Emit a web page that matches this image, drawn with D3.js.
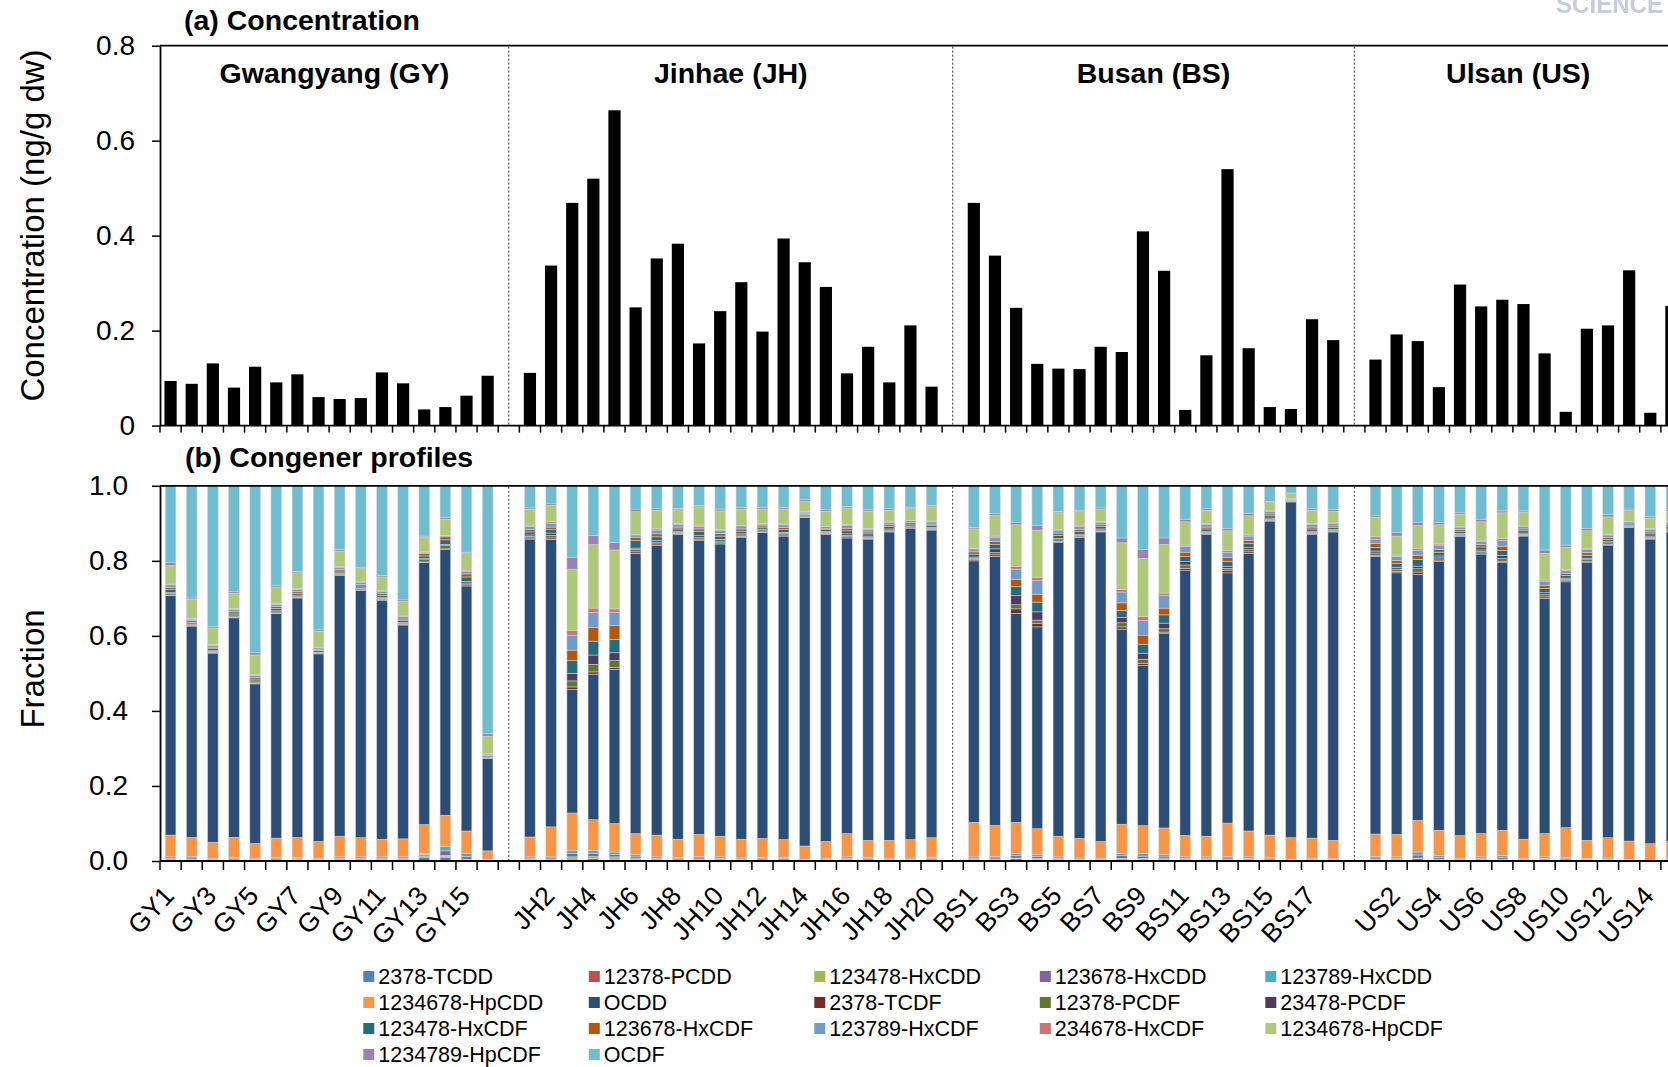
<!DOCTYPE html>
<html>
<head>
<meta charset="utf-8">
<script src="https://cdn.jsdelivr.net/npm/d3@7"></script>
<style>
  html, body { margin: 0; padding: 0; background: #fff; }
  svg { display: block; font-family: "Liberation Sans", Arial, sans-serif; }
</style>
</head>
<body>
<svg id="chart" width="1668" height="1067"></svg>
<script>
// ---- sampling regions (in plotting order) ----
const regionCodes = ["GY", "JH", "BS", "US"];
const regionNames = ["Gwangyang (GY)", "Jinhae (JH)", "Busan (BS)", "Ulsan (US)"];
const regionSizes = [16, 20, 18, 15];

// ---- (a) total concentration, ng/g dw ----
const concentration = [
  .094, .088, .131, .080, .124, .091, .108, .060, .056, .058, .112, .089, .034, .039, .063, .105,
  .111, .337, .469, .520, .664, .249, .352, .383, .173, .241, .302, .198, .394, .344, .292, .110, .166, .091, .211, .082,
  .469, .358, .248, .130, .120, .119, .166, .155, .409, .326, .033, .148, .540, .163, .039, .035, .224, .180,
  .139, .192, .178, .081, .297, .251, .265, .256, .152, .029, .204, .211, .327, .027, .252
];
const concTicks = [0, 0.2, 0.4, 0.6, 0.8];
const fracTicks = [0, 0.2, 0.4, 0.6, 0.8, 1.0];

// ---- (b) congener fractions (GY | JH | BS | US) ----
const tcdd2378 = [
  .001, .001, .001, .001, .001, .001, .001, .001, .001, .001, .001, .001, .010, .010, .002, .000,
  .001, .001, .002, .002, .002, .001, .001, .001, .001, .001, .001, .001, .001, .000, .001, .001, .001, .001, .001, .001,
  .001, .001, .002, .001, .001, .001, .001, .001, .002, .001, .001, .001, .001, .001, .001, .000, .001, .001,
  .001, .001, .002, .001, .001, .001, .001, .001, .001, .001, .001, .001, .000, .000, .000
];
const pecdd12378 = [
  .001, .001, .001, .001, .001, .001, .001, .001, .001, .001, .001, .001, .001, .002, .001, .001,
  .001, .001, .003, .004, .003, .002, .001, .001, .001, .001, .001, .001, .001, .001, .001, .001, .001, .001, .001, .001,
  .001, .001, .004, .003, .001, .001, .001, .002, .002, .002, .001, .001, .001, .001, .001, .001, .001, .001,
  .001, .001, .004, .002, .001, .001, .002, .001, .001, .001, .001, .001, .001, .000, .001
];
const hxcdd123478 = [
  .002, .002, .001, .001, .001, .001, .002, .001, .002, .002, .002, .002, .006, .003, .002, .001,
  .002, .002, .006, .006, .006, .003, .002, .001, .002, .002, .001, .001, .001, .001, .001, .002, .001, .001, .001, .001,
  .002, .002, .002, .003, .002, .001, .001, .004, .003, .003, .002, .002, .002, .002, .001, .001, .001, .001,
  .002, .002, .002, .002, .001, .002, .002, .001, .002, .001, .001, .001, .001, .001, .001
];
const hxcdd123678 = [
  .003, .004, .001, .003, .001, .003, .003, .002, .003, .003, .003, .003, .001, .012, .007, .001,
  .003, .004, .009, .008, .006, .005, .003, .003, .004, .003, .002, .003, .003, .001, .001, .003, .003, .001, .002, .003,
  .003, .004, .006, .005, .003, .002, .001, .007, .006, .005, .003, .003, .004, .003, .003, .001, .001, .001,
  .004, .003, .008, .005, .001, .003, .005, .001, .003, .003, .002, .002, .001, .000, .001
];
const hxcdd123789 = [
  .004, .004, .002, .003, .002, .003, .003, .002, .004, .004, .004, .004, .002, .012, .008, .001,
  .004, .003, .008, .008, .007, .006, .004, .003, .004, .004, .003, .003, .003, .001, .002, .004, .003, .002, .003, .003,
  .004, .004, .006, .005, .004, .003, .002, .006, .007, .006, .004, .004, .004, .004, .003, .001, .002, .002,
  .004, .004, .008, .005, .002, .004, .005, .002, .004, .003, .002, .003, .001, .001, .001
];
const hpcdd1234678 = [
  .058, .051, .044, .054, .041, .052, .053, .045, .055, .051, .047, .048, .077, .083, .060, .023,
  .053, .080, .100, .082, .076, .056, .058, .049, .059, .055, .050, .051, .048, .036, .046, .062, .046, .049, .049, .053,
  .092, .083, .083, .069, .055, .052, .046, .078, .074, .071, .057, .055, .089, .069, .060, .058, .055, .049,
  .060, .060, .084, .067, .062, .062, .067, .052, .062, .080, .048, .054, .049, .044, .048
];
const ocdd = [
  .638, .563, .504, .585, .425, .598, .638, .500, .695, .659, .637, .570, .698, .708, .653, .246,
  .794, .766, .329, .388, .411, .747, .772, .813, .784, .779, .804, .815, .809, .875, .819, .788, .803, .822, .829, .820,
  .697, .717, .557, .538, .783, .802, .825, .520, .427, .518, .706, .805, .667, .740, .837, .895, .810, .822,
  .740, .697, .656, .716, .797, .745, .713, .808, .627, .655, .740, .780, .836, .812, .825
];
const tcdf2378 = [
  .002, .002, .002, .002, .002, .002, .002, .001, .002, .002, .002, .002, .002, .002, .003, .001,
  .003, .004, .007, .006, .005, .004, .004, .002, .003, .003, .003, .002, .003, .001, .002, .003, .002, .002, .002, .002,
  .003, .004, .012, .009, .003, .002, .002, .006, .006, .004, .006, .002, .006, .004, .002, .001, .002, .002,
  .003, .004, .006, .004, .002, .003, .004, .002, .004, .003, .003, .002, .001, .002, .002
];
const pecdf12378 = [
  .004, .002, .003, .003, .003, .003, .003, .002, .003, .003, .003, .003, .006, .009, .005, .002,
  .004, .007, .016, .020, .018, .007, .005, .003, .005, .005, .004, .003, .004, .002, .003, .004, .003, .003, .003, .003,
  .004, .006, .011, .009, .004, .004, .003, .011, .011, .009, .009, .003, .006, .006, .003, .001, .003, .003,
  .006, .006, .009, .006, .003, .004, .007, .003, .006, .004, .005, .004, .002, .003, .003
];
const pecdf23478 = [
  .003, .002, .002, .003, .003, .003, .003, .002, .002, .002, .003, .002, .003, .003, .004, .001,
  .004, .006, .020, .025, .021, .003, .004, .003, .004, .004, .003, .003, .003, .002, .002, .004, .003, .003, .002, .002,
  .003, .010, .024, .022, .004, .003, .003, .014, .016, .015, .009, .003, .005, .005, .003, .001, .003, .002,
  .005, .005, .007, .005, .003, .004, .009, .003, .005, .003, .004, .003, .002, .003, .003
];
const hxcdf123478 = [
  .007, .004, .005, .005, .005, .006, .005, .004, .005, .005, .005, .005, .007, .012, .012, .003,
  .008, .009, .034, .037, .036, .020, .010, .006, .012, .009, .007, .005, .007, .004, .005, .008, .006, .006, .005, .005,
  .008, .011, .024, .026, .008, .007, .006, .019, .024, .022, .013, .006, .014, .011, .006, .002, .006, .005,
  .010, .010, .018, .010, .006, .008, .013, .006, .011, .007, .008, .006, .004, .006, .006
];
const hxcdf123678 = [
  .006, .004, .004, .005, .005, .005, .005, .003, .004, .004, .005, .004, .006, .008, .008, .002,
  .007, .007, .028, .036, .036, .009, .008, .005, .006, .007, .006, .005, .006, .003, .004, .007, .005, .005, .004, .004,
  .006, .009, .019, .021, .006, .006, .005, .020, .024, .018, .012, .005, .010, .009, .005, .002, .005, .004,
  .010, .008, .011, .008, .005, .007, .011, .005, .009, .006, .007, .005, .003, .005, .005
];
const hxcdf123789 = [
  .007, .004, .005, .005, .005, .006, .005, .004, .005, .006, .005, .006, .004, .003, .006, .003,
  .008, .010, .040, .041, .036, .006, .010, .007, .007, .008, .008, .005, .007, .003, .004, .008, .007, .006, .005, .006,
  .008, .011, .028, .036, .008, .007, .007, .029, .039, .034, .015, .007, .014, .011, .006, .001, .007, .006,
  .012, .011, .012, .011, .006, .008, .015, .006, .011, .008, .008, .007, .004, .007, .006
];
const hxcdf234678 = [
  .002, .002, .002, .002, .002, .002, .002, .002, .002, .002, .002, .002, .001, .001, .004, .001,
  .003, .004, .012, .011, .009, .002, .003, .002, .003, .003, .002, .002, .002, .001, .001, .002, .002, .002, .001, .002,
  .002, .003, .007, .009, .002, .002, .002, .007, .011, .006, .004, .002, .004, .003, .002, .001, .002, .002,
  .006, .003, .005, .003, .002, .003, .006, .002, .003, .002, .003, .002, .001, .002, .002
];
const hpcdf1234678 = [
  .050, .051, .044, .041, .052, .044, .042, .042, .042, .034, .037, .039, .038, .043, .044, .046,
  .042, .044, .164, .169, .157, .060, .050, .037, .049, .049, .043, .038, .040, .028, .040, .044, .046, .031, .031, .038,
  .051, .055, .111, .126, .044, .038, .032, .124, .154, .130, .062, .036, .053, .051, .022, .013, .036, .031,
  .052, .051, .062, .051, .032, .049, .068, .036, .071, .059, .047, .046, .028, .028, .028
];
const hpcdf1234789 = [
  .007, .004, .004, .004, .006, .004, .004, .004, .004, .004, .004, .004, .004, .004, .004, .007,
  .004, .004, .031, .025, .020, .007, .004, .004, .004, .005, .004, .004, .004, .004, .004, .004, .004, .004, .004, .004,
  .004, .005, .007, .013, .004, .004, .004, .013, .024, .017, .007, .004, .006, .007, .003, .002, .004, .005,
  .004, .009, .009, .006, .004, .007, .005, .004, .009, .006, .006, .006, .004, .004, .004
];
const ocdf = [
  .205, .299, .374, .282, .445, .266, .228, .383, .170, .218, .239, .305, .134, .084, .177, .660,
  .059, .047, .191, .132, .151, .062, .061, .060, .052, .062, .058, .058, .058, .037, .064, .055, .064, .061, .057, .052,
  .111, .074, .097, .105, .068, .065, .059, .139, .170, .139, .089, .061, .114, .073, .042, .019, .061, .063,
  .080, .125, .097, .098, .072, .089, .067, .067, .171, .158, .114, .077, .062, .082, .064
];

const congenerNames = [
  "2378-TCDD", "12378-PCDD", "123478-HxCDD", "123678-HxCDD", "123789-HxCDD",
  "1234678-HpCDD", "OCDD", "2378-TCDF", "12378-PCDF", "23478-PCDF",
  "123478-HxCDF", "123678-HxCDF", "123789-HxCDF", "234678-HxCDF", "1234678-HpCDF",
  "1234789-HpCDF", "OCDF"
];
const congenerSeries = [
  tcdd2378, pecdd12378, hxcdd123478, hxcdd123678, hxcdd123789,
  hpcdd1234678, ocdd, tcdf2378, pecdf12378, pecdf23478,
  hxcdf123478, hxcdf123678, hxcdf123789, hxcdf234678, hpcdf1234678,
  hpcdf1234789, ocdf
];
const congenerColors = [
  "#4F81BD", "#C0504D", "#9BBB59", "#8064A2", "#4BACC6",
  "#F79646", "#2C4D75", "#772C2A", "#5F7530", "#4D3B62",
  "#276A7C", "#B65708", "#729ACA", "#CD7371", "#AFC97A",
  "#9983B5", "#6FBDD1"
];

// ---- category slots: samples with one empty slot between regions ----
const slots = [];
const sites = [];
regionCodes.forEach((code, r) => {
  if (r > 0) slots.push("gap" + r);
  for (let k = 1; k <= regionSizes[r]; k++) { slots.push(code + k); sites.push(code + k); }
});

const svg = d3.select("#chart");
const FONT = '"Liberation Sans", Arial, sans-serif';

const x = d3.scaleBand().domain(slots).range([160, 1682]).padding(0);
const bw = x.bandwidth();
const plotLeft = x.range()[0];
const plotRight = x.range()[1];
const gapSlots = slots.filter(s => s.startsWith("gap"));
const sepX = gapSlots.map(s => x(s) + bw / 2);

const yTop = d3.scaleLinear().domain([0, 0.8]).range([425.6, 45.7]);
const yBot = d3.scaleLinear().domain([0, 1]).range([861, 485.8]);

// ---------- panel (a) bars ----------
const topBarW = 12.2;
svg.append("g").selectAll("rect")
  .data(sites.map((s, i) => ({ site: s, v: concentration[i] })))
  .join("rect")
  .attr("x", d => x(d.site) + (bw - topBarW) / 2)
  .attr("y", d => yTop(d.v))
  .attr("width", topBarW)
  .attr("height", d => yTop(0) - yTop(d.v))
  .attr("fill", "#000");

// ---------- panel (b) stacked congener profiles ----------
const rows = sites.map((s, i) => {
  const r = { site: s };
  congenerNames.forEach((k, j) => { r[k] = congenerSeries[j][i]; });
  return r;
});
const stacked = d3.stack().keys(congenerNames)(rows);
const botBarW = 10.6;
svg.append("g").selectAll("g")
  .data(stacked)
  .join("g")
  .attr("fill", (d, i) => congenerColors[i])
  .selectAll("rect")
  .data(d => d)
  .join("rect")
  .attr("x", d => x(d.data.site) + (bw - botBarW) / 2)
  .attr("y", d => yBot(d[1]))
  .attr("width", botBarW)
  .attr("height", d => Math.max(0, yBot(d[0]) - yBot(d[1])))
  .attr("stroke", "rgba(215,215,220,0.85)")
  .attr("stroke-width", 0.6);

// ---------- frames, separators, axes ----------
function panelFrame(yTopPx, yZeroPx, tickLen) {
  const g = svg.append("g");
  g.append("line").attr("x1", plotLeft).attr("x2", plotRight)
    .attr("y1", yTopPx).attr("y2", yTopPx)
    .attr("stroke", "#000").attr("stroke-width", 1.8);
  g.append("line").attr("x1", plotLeft).attr("x2", plotRight)
    .attr("y1", yZeroPx).attr("y2", yZeroPx)
    .attr("stroke", "#000").attr("stroke-width", 1.8);
  // category tick marks at band boundaries
  const bounds = slots.map(s => x(s)).concat([plotRight]);
  g.selectAll("line.ct").data(bounds).join("line").attr("class", "ct")
    .attr("x1", d => d).attr("x2", d => d)
    .attr("y1", yZeroPx).attr("y2", yZeroPx + tickLen)
    .attr("stroke", "#000").attr("stroke-width", 1.5);
  // dotted separators between regions
  g.selectAll("line.sep").data(sepX).join("line").attr("class", "sep")
    .attr("x1", d => d).attr("x2", d => d)
    .attr("y1", yTopPx + 1).attr("y2", yZeroPx - 1)
    .attr("stroke", "#333").attr("stroke-width", 1)
    .attr("stroke-dasharray", "2,2");
}
panelFrame(45.7, 425.6, 7);
panelFrame(485.8, 861, 9);

function styleAxis(g) {
  g.select(".domain").attr("stroke", "#000").attr("stroke-width", 1.8);
  g.selectAll(".tick line").attr("stroke", "#000").attr("stroke-width", 1.5);
  g.selectAll(".tick text").attr("font-family", FONT).attr("font-size", 28).attr("fill", "#000");
}
svg.append("g").attr("transform", `translate(${plotLeft},0)`)
  .call(d3.axisLeft(yTop).tickValues(concTicks).tickSize(8).tickSizeOuter(0).tickPadding(17)
    .tickFormat(d => d === 0 ? "0" : d3.format(".1f")(d)))
  .call(styleAxis);
svg.append("g").attr("transform", `translate(${plotLeft},0)`)
  .call(d3.axisLeft(yBot).tickValues(fracTicks).tickSize(8).tickSizeOuter(0).tickPadding(24)
    .tickFormat(d3.format(".1f")))
  .call(styleAxis);

// ---------- category labels (every other slot) ----------
svg.append("g").selectAll("text")
  .data(slots.filter((s, i) => i % 2 === 0 && !s.startsWith("gap")))
  .join("text")
  .attr("transform", d => `translate(${x(d) + bw / 2 + 5},${897}) rotate(-47)`)
  .attr("text-anchor", "end")
  .attr("font-family", FONT).attr("font-size", 26.5).attr("fill", "#000")
  .text(d => d);

// ---------- titles ----------
svg.append("text").attr("x", 184).attr("y", 30)
  .attr("font-family", FONT).attr("font-size", 28.5).attr("font-weight", "bold")
  .text("(a) Concentration");
svg.append("text").attr("x", 185).attr("y", 467)
  .attr("font-family", FONT).attr("font-size", 28.5).attr("font-weight", "bold")
  .text("(b) Congener profiles");

// region names, centred between the separators that bound each region
const regionBounds = [plotLeft].concat(sepX, [plotRight]);
regionNames.forEach((name, r) => {
  const cx = (regionBounds[r] + regionBounds[r + 1]) / 2;
  svg.append("text").attr("x", cx).attr("y", 83)
    .attr("text-anchor", "middle")
    .attr("font-family", FONT).attr("font-size", 28.5).attr("font-weight", "bold")
    .text(name);
});

svg.append("text").attr("transform", "translate(44,225.5) rotate(-90)")
  .attr("text-anchor", "middle").attr("font-family", FONT).attr("font-size", 33)
  .text("Concentration (ng/g dw)");
svg.append("text").attr("transform", "translate(44,669) rotate(-90)")
  .attr("text-anchor", "middle").attr("font-family", FONT).attr("font-size", 33)
  .text("Fraction");

// faint journal mark in the top-right corner
svg.append("text").attr("x", 1556).attr("y", 13)
  .attr("font-family", FONT).attr("font-size", 26).attr("font-weight", "bold")
  .attr("fill", "#c6cbdd").attr("textLength", 107).attr("lengthAdjust", "spacingAndGlyphs")
  .style("filter", "blur(0.6px)")
  .text("SCIENCE");

// ---------- legend ----------
const legend = svg.append("g");
congenerNames.forEach((name, i) => {
  const col = i % 5, row = Math.floor(i / 5);
  const lx = 363.3 + col * 225.5, ly = 976.5 + row * 26;
  legend.append("rect").attr("x", lx).attr("y", ly - 5.5)
    .attr("width", 11).attr("height", 11).attr("fill", congenerColors[i]);
  legend.append("text").attr("x", lx + 15).attr("y", ly).attr("dy", "0.35em")
    .attr("font-family", FONT).attr("font-size", 21.5).attr("fill", "#000")
    .text(name);
});
</script>
</body>
</html>
